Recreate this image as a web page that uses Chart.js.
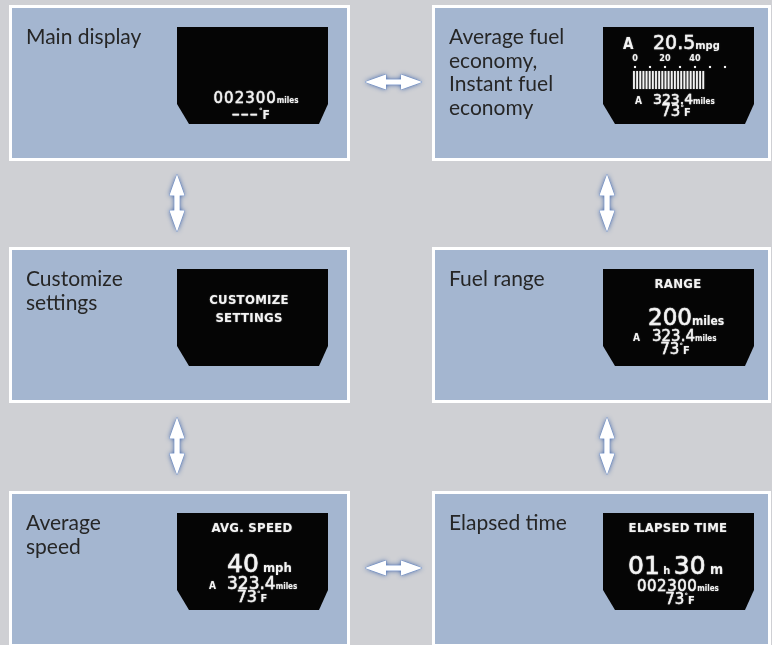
<!DOCTYPE html>
<html>
<head>
<meta charset="utf-8">
<title>Multi-information display modes</title>
<script src="https://cdn.jsdelivr.net/npm/chart.js@4.4.1/dist/chart.umd.min.js"></script>
<style>
  html, body { margin: 0; padding: 0; background: #cfd0d4; }
  #wrap { width: 772px; height: 645px; }
</style>
</head>
<body>
<div id="wrap"><canvas id="flow" width="772" height="645"></canvas></div>
<script>
// Display modes, read left to right, top to bottom
const panelTitles = [
    ['Main display'],
    ['Average fuel', 'economy,', 'Instant fuel', 'economy'],
    ['Customize', 'settings'],
    ['Fuel range'],
    ['Average', 'speed'],
    ['Elapsed time']
];
const panelCols = [0, 1, 0, 1, 0, 1];
const panelRows = [0, 0, 1, 1, 2, 2];

// which modes the arrows connect
const flowLinks = [[0, 1], [0, 2], [1, 3], [2, 4], [3, 5], [4, 5]];

// values shown on the screens
const odometerMiles = '002300';
const tripAMiles = '323.4';
const outsideTempF = '73';
const avgFuelMpg = '20.5';
const instantTicks = [0, 20, 40];
const instantDots = [0, 10, 20, 30, 40, 50, 60];
const instantMpg = 45;
const rangeMiles = '200';
const avgSpeedMph = '40';
const elapsedHours = '01';
const elapsedMinutes = '30';
const screenHeadings = [[], [], ['CUSTOMIZE', 'SETTINGS'], ['RANGE'], ['AVG. SPEED'], ['ELAPSED TIME']];

const BG = '#cfd0d4';
const PANEL = '#a4b6d0';
const INK = '#262626';
const LCD = '#f3f3f3';
const NUM = '"DejaVu Sans", sans-serif';
const COND = '"DejaVu Sans Condensed", "DejaVu Sans", sans-serif';

// layout in chart units (scales run 0..772 and 0..645)
const colLeft = [9, 432];
const colRight = [350, 771];
const rowTop = [5, 247, 491];
const panelH = 156;
const screenDx = [168, 171];

function drawRuns(ctx, runs, x, y, align) {
    let total = 0;
    runs.forEach(r => {
        ctx.font = r.f;
        ctx.letterSpacing = (r.ls || 0) + 'px';
        r.w = ctx.measureText(r.t).width;
        total += r.w;
    });
    let cx = align === 'center' ? x - total / 2 : x;
    runs.forEach(r => {
        ctx.font = r.f;
        ctx.letterSpacing = (r.ls || 0) + 'px';
        ctx.fillText(r.t, cx, y + (r.dy || 0));
        if (r.s) {
            // thicken the thin book weight to look like the LCD digits
            ctx.strokeStyle = LCD;
            ctx.lineWidth = r.s;
            ctx.strokeText(r.t, cx, y + (r.dy || 0));
        }
        cx += r.w;
    });
    ctx.letterSpacing = '0px';
}

function tempRuns(big) {
    return [
        { t: outsideTempF, f: big + 'px ' + NUM, s: 0.4 },
        { t: '°', f: 'bold 7px ' + NUM, dy: -6 },
        { t: 'F', f: 'bold 11px ' + COND }
    ];
}

function drawArrow(ctx, cx, cy, len, vertical) {
    const hl = 21, hw = 7.5, sw = 2.6, h = len / 2;
    const pts = [[0, -h], [hw, -h + hl], [sw, -h + hl], [sw, h - hl], [hw, h - hl], [0, h],
                 [-hw, h - hl], [-sw, h - hl], [-sw, -h + hl], [-hw, -h + hl]];
    ctx.beginPath();
    pts.forEach((p, i) => {
        const px = vertical ? cx + p[0] : cx + p[1];
        const py = vertical ? cy + p[1] : cy + p[0];
        if (i === 0) ctx.moveTo(px, py); else ctx.lineTo(px, py);
    });
    ctx.closePath();
    ctx.save();
    ctx.shadowColor = 'rgba(50, 90, 165, 1)';
    ctx.shadowBlur = 5;
    ctx.fillStyle = '#ffffff';
    ctx.fill();
    ctx.restore();
    ctx.strokeStyle = 'rgba(105, 140, 200, 0.8)';
    ctx.lineWidth = 1;
    ctx.stroke();
    ctx.fillStyle = '#ffffff';
    ctx.fill();
}

function drawScreen(ctx, i, x0, y0, w, h) {
    // black LCD with cut bottom corners
    ctx.fillStyle = '#050505';
    ctx.beginPath();
    ctx.moveTo(x0, y0);
    ctx.lineTo(x0 + w, y0);
    ctx.lineTo(x0 + w, y0 + h - 20);
    ctx.lineTo(x0 + w - 9, y0 + h);
    ctx.lineTo(x0 + 12, y0 + h);
    ctx.lineTo(x0, y0 + h - 20);
    ctx.closePath();
    ctx.fill();

    ctx.fillStyle = LCD;
    ctx.textBaseline = 'alphabetic';
    ctx.textAlign = 'left';
    ctx.shadowColor = 'rgba(255, 255, 255, 0.45)';
    ctx.shadowBlur = 1.5;
    const heads = screenHeadings[i];
    heads.forEach((t, k) => {
        const y = i === 2 ? y0 + 35 + k * 18 : y0 + 19;
        const cx = i === 2 ? x0 + 72 : x0 + 75;
        drawRuns(ctx, [{ t: t, f: 'bold 13px ' + COND, ls: 0.3 }], cx, y, 'center');
    });

    if (i === 0) {
        drawRuns(ctx, [{ t: odometerMiles, f: '15px ' + NUM, ls: 1, s: 0.4 }, { t: 'miles', f: 'bold 8px ' + COND }], x0 + 79, y0 + 76, 'center');
        drawRuns(ctx, [{ t: '–––', f: '15px ' + NUM, ls: 1.5, s: 0.6 }, { t: '°', f: 'bold 7px ' + NUM, dy: -6 }, { t: 'F', f: 'bold 12px ' + COND }], x0 + 74, y0 + 92, 'center');
    } else if (i === 1) {
        drawRuns(ctx, [{ t: 'A', f: 'bold 15px ' + COND }], x0 + 20, y0 + 22, 'left');
        drawRuns(ctx, [{ t: avgFuelMpg, f: '19px ' + NUM, s: 0.4 }, { t: 'mpg', f: 'bold 11px ' + COND }], x0 + 50, y0 + 22, 'left');
        // instant fuel economy bar gauge, 0..60 mpg
        const gx = v => x0 + 32 + v * 1.5;
        instantTicks.forEach(v => {
            drawRuns(ctx, [{ t: String(v), f: 'bold 9px ' + COND }], gx(v), y0 + 34, 'center');
        });
        instantDots.forEach(v => ctx.fillRect(gx(v) - 1, y0 + 39, 2, 2));
        for (let v = -1.3; v < instantMpg; v += 2.1) {
            ctx.fillRect(gx(v), y0 + 44, 1.8, 18);
        }
        drawRuns(ctx, [{ t: 'A', f: 'bold 10px ' + COND }], x0 + 32, y0 + 77, 'left');
        drawRuns(ctx, [{ t: tripAMiles, f: '14px ' + NUM, s: 0.4 }, { t: 'miles', f: 'bold 8px ' + COND }], x0 + 50, y0 + 77, 'left');
        drawRuns(ctx, tempRuns(15), x0 + 73, y0 + 89, 'center');
    } else if (i === 3) {
        drawRuns(ctx, [{ t: rangeMiles, f: '23px ' + NUM, s: 0.5 }, { t: 'miles', f: 'bold 12px ' + COND }], x0 + 45, y0 + 56, 'left');
        drawRuns(ctx, [{ t: 'A', f: 'bold 10px ' + COND }], x0 + 30, y0 + 72, 'left');
        drawRuns(ctx, [{ t: tripAMiles, f: '15px ' + NUM, s: 0.4 }, { t: 'miles', f: 'bold 8px ' + COND }], x0 + 49, y0 + 72, 'left');
        drawRuns(ctx, tempRuns(15), x0 + 72, y0 + 85, 'center');
    } else if (i === 4) {
        drawRuns(ctx, [{ t: avgSpeedMph, f: '25px ' + NUM, s: 0.5 }, { t: ' mph', f: 'bold 13px ' + COND }], x0 + 50, y0 + 59, 'left');
        drawRuns(ctx, [{ t: 'A', f: 'bold 10px ' + COND }], x0 + 32, y0 + 76, 'left');
        drawRuns(ctx, [{ t: tripAMiles, f: '17px ' + NUM, s: 0.4 }, { t: 'miles', f: 'bold 8px ' + COND }], x0 + 50, y0 + 76, 'left');
        drawRuns(ctx, tempRuns(16), x0 + 75, y0 + 89, 'center');
    } else if (i === 5) {
        drawRuns(ctx, [{ t: elapsedHours, f: '25px ' + NUM, s: 0.5 }, { t: ' h ', f: 'bold 11px ' + COND },
                       { t: elapsedMinutes, f: '25px ' + NUM, s: 0.5 }, { t: ' m', f: 'bold 14px ' + COND }], x0 + 25, y0 + 61, 'left');
        drawRuns(ctx, [{ t: odometerMiles, f: '15px ' + NUM, ls: 0.5, s: 0.4 }, { t: 'miles', f: 'bold 8px ' + COND }], x0 + 34, y0 + 78, 'left');
        drawRuns(ctx, tempRuns(15), x0 + 77, y0 + 91, 'center');
    }
    ctx.shadowColor = 'rgba(0, 0, 0, 0)';
    ctx.shadowBlur = 0;
}

const flowPlugin = {
    id: 'flowPlugin',
    beforeDraw(chart) {
        const ctx = chart.ctx;
        const X = v => chart.scales.x.getPixelForValue(v);
        const Y = v => chart.scales.y.getPixelForValue(v);
        ctx.save();
        ctx.fillStyle = BG;
        ctx.fillRect(X(0), Y(0), X(772) - X(0), Y(645) - Y(0));

        panelTitles.forEach((lines, i) => {
            const c = panelCols[i], r = panelRows[i];
            const x0 = X(colLeft[c]), x1 = X(colRight[c]);
            const y0 = Y(rowTop[r]), y1 = Y(rowTop[r] + panelH);
            ctx.fillStyle = '#ffffff';
            ctx.fillRect(x0, y0, x1 - x0, y1 - y0);
            ctx.fillStyle = PANEL;
            ctx.fillRect(x0 + 3, y0 + 3, x1 - x0 - 6, y1 - y0 - 6);

            ctx.fillStyle = INK;
            ctx.font = '21px Lato, sans-serif';
            ctx.textAlign = 'left';
            ctx.textBaseline = 'alphabetic';
            lines.forEach((t, k) => ctx.fillText(t, x0 + 17, y0 + 39 + k * 23.5));

            drawScreen(ctx, i, X(colLeft[c] + screenDx[c]), Y(rowTop[r] + 22), 151, 97);
        });

        flowLinks.forEach(([a, b]) => {
            if (panelRows[a] === panelRows[b]) {
                const cx = X((colRight[0] + colLeft[1]) / 2 + 2.5);
                const cy = Y(rowTop[panelRows[a]] + 77);
                drawArrow(ctx, cx, cy, 57, false);
            } else {
                const c = panelCols[a];
                const cx = X(c === 0 ? 177 : 607);
                const cy = Y((rowTop[panelRows[a]] + panelH + rowTop[panelRows[b]]) / 2 - 1);
                drawArrow(ctx, cx, cy, 57, true);
            }
        });
        ctx.restore();
    }
};

new Chart(document.getElementById('flow'), {
    type: 'scatter',
    data: { datasets: [{ data: [] }] },
    options: {
        responsive: false,
        animation: false,
        layout: { padding: 0 },
        plugins: { legend: { display: false }, tooltip: { enabled: false } },
        scales: {
            x: { type: 'linear', min: 0, max: 772, display: false },
            y: { type: 'linear', min: 0, max: 645, reverse: true, display: false }
        }
    },
    plugins: [flowPlugin]
});
</script>
</body>
</html>
